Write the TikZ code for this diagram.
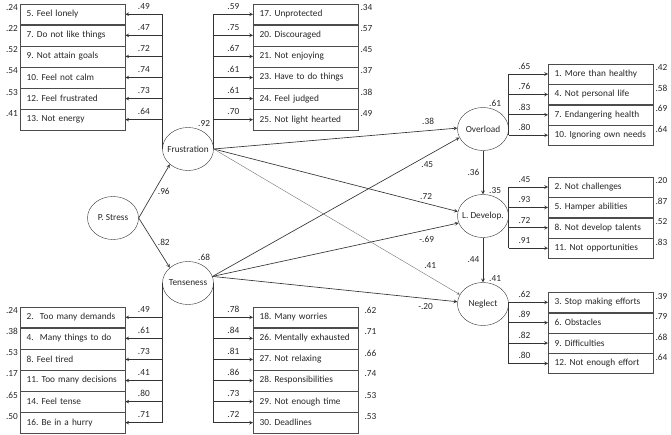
\documentclass[tikz,border=0pt]{standalone}
\usepackage{fontspec}
\setmainfont{Carlito}
\usetikzlibrary{shapes.geometric,positioning}
\frenchspacing
\begin{document}
\begin{tikzpicture}[x=1pt, y=-1pt, >=stealth,
	every node/.style={font=\fontsize{9.3}{11}\selectfont, text=black!85},
	latent/.style={draw=black!80, ellipse, minimum width=51pt, minimum height=43pt, inner sep=0pt},
	item/.style={draw=black!70, minimum width=105pt, minimum height=20.67pt, text width=96pt, align=left, inner xsep=4.5pt, inner ysep=0pt},
	itemr/.style={item, minimum height=20pt},
	evl/.style={anchor=east, inner sep=1pt, xshift=-1pt, yshift=-4pt},
	evr/.style={anchor=west, inner sep=1pt, xshift=1pt, yshift=-4pt},
	cor/.style={anchor=south west, inner sep=1pt, xshift=5pt},
	lnk/.style={draw=black!80, line width=0.65pt}]

	\useasboundingbox (0,0) rectangle (671,435);

	% latent variables
	\node[latent] (PS) at (113,218) {\makebox[0pt]{P. Stress}};
	\node[latent, label={[cor, xshift=4pt]north:.92}] (Frus) at (188,149) {\makebox[0pt]{Frustration}};
	\node[latent, label={[cor, xshift=4pt]north:.68}] (Tens) at (188,283) {\makebox[0pt]{Tenseness}};
	\node[latent, label={[cor]north:.61}] (Over) at (483,129) {\makebox[0pt]{Overload}};
	\node[latent, label={[cor]north:.35}] (LDev) at (483,216) {\makebox[0pt]{L. Develop.}};
	\node[latent, label={[cor]north:.41}] (Negl) at (483,304) {\makebox[0pt]{Neglect}};

	% frustration items (left)
	\node[item, anchor=west, label={[evl]north west:.24}] (f5) at (20,14.3) {\hspace{2pt}5. Feel lonely};
	\node[item, below=0pt of f5, label={[evl]north west:.22}] (f7) {\hspace{2pt}7. Do not like things};
	\node[item, below=0pt of f7, label={[evl]north west:.52}] (f9) {\hspace{2pt}9. Not attain goals};
	\node[item, below=0pt of f9, label={[evl]north west:.54}] (f10) {\hspace{2pt}10. Feel not calm};
	\node[item, below=0pt of f10, label={[evl]north west:.53}] (f12) {\hspace{2pt}12. Feel frustrated};
	\node[item, below=0pt of f12, label={[evl]north west:.41}] (f13) {\hspace{2pt}13. Not energy};

	\draw[lnk] (Frus.west) -- (Frus.west |- f5);
	\draw[lnk, ->] (Frus.west |- f5) -- (f5.east) node[midway, above=1pt] {.49};
	\draw[lnk, ->] (Frus.west |- f7) -- (f7.east) node[midway, above=1pt] {.47};
	\draw[lnk, ->] (Frus.west |- f9) -- (f9.east) node[midway, above=1pt] {.72};
	\draw[lnk, ->] (Frus.west |- f10) -- (f10.east) node[midway, above=1pt] {.74};
	\draw[lnk, ->] (Frus.west |- f12) -- (f12.east) node[midway, above=1pt] {.73};
	\draw[lnk, ->] (Frus.west |- f13) -- (f13.east) node[midway, above=1pt] {.64};

	% frustration items (right)
	\node[item, anchor=west, label={[evr]north east:.34}] (f17) at (253,14.3) {\hspace{2pt}17. Unprotected};
	\node[item, below=0pt of f17, label={[evr]north east:.57}] (f20) {\hspace{2pt}20. Discouraged};
	\node[item, below=0pt of f20, label={[evr]north east:.45}] (f21) {\hspace{2pt}21. Not enjoying};
	\node[item, below=0pt of f21, label={[evr]north east:.37}] (f23) {\hspace{2pt}23. Have to do things};
	\node[item, below=0pt of f23, label={[evr]north east:.38}] (f24) {\hspace{2pt}24. Feel judged};
	\node[item, below=0pt of f24, label={[evr]north east:.49}] (f25) {\hspace{2pt}25. Not light hearted};

	\draw[lnk] (Frus.east) -- (Frus.east |- f17);
	\draw[lnk, ->] (Frus.east |- f17) -- (f17.west) node[midway, above=1pt] {.59};
	\draw[lnk, ->] (Frus.east |- f20) -- (f20.west) node[midway, above=1pt] {.75};
	\draw[lnk, ->] (Frus.east |- f21) -- (f21.west) node[midway, above=1pt] {.67};
	\draw[lnk, ->] (Frus.east |- f23) -- (f23.west) node[midway, above=1pt] {.61};
	\draw[lnk, ->] (Frus.east |- f24) -- (f24.west) node[midway, above=1pt] {.61};
	\draw[lnk, ->] (Frus.east |- f25) -- (f25.west) node[midway, above=1pt] {.70};

	% tenseness items (left)
	\node[item, anchor=west, label={[evl]north west:.24}] (t2) at (20,317.3) {\hspace{2pt}2.~ Too many demands};
	\node[item, below=0pt of t2, label={[evl]north west:.38}] (t4) {\hspace{2pt}4.~ Many things to do};
	\node[item, below=0pt of t4, label={[evl]north west:.53}] (t8) {\hspace{2pt}8. Feel tired};
	\node[item, below=0pt of t8, label={[evl]north west:.17}] (t11) {\hspace{2pt}11. Too many decisions};
	\node[item, below=0pt of t11, label={[evl]north west:.65}] (t14) {\hspace{2pt}14. Feel tense};
	\node[item, below=0pt of t14, label={[evl]north west:.50}] (t16) {\hspace{2pt}16. Be in a hurry};

	\draw[lnk] (Tens.west) -- (Tens.west |- t16);
	\draw[lnk, ->] (Tens.west |- t2) -- (t2.east) node[midway, above=1pt] {.49};
	\draw[lnk, ->] (Tens.west |- t4) -- (t4.east) node[midway, above=1pt] {.61};
	\draw[lnk, ->] (Tens.west |- t8) -- (t8.east) node[midway, above=1pt] {.73};
	\draw[lnk, ->] (Tens.west |- t11) -- (t11.east) node[midway, above=1pt] {.41};
	\draw[lnk, ->] (Tens.west |- t14) -- (t14.east) node[midway, above=1pt] {.80};
	\draw[lnk, ->] (Tens.west |- t16) -- (t16.east) node[midway, above=1pt] {.71};

	% tenseness items (right)
	\node[item, anchor=west, label={[evr, xshift=4pt]north east:.62}] (t18) at (253,317.3) {\hspace{2pt}18. Many worries};
	\node[item, below=0pt of t18, label={[evr, xshift=4pt]north east:.71}] (t26) {\hspace{2pt}26. Mentally exhausted};
	\node[item, below=0pt of t26, label={[evr, xshift=4pt]north east:.66}] (t27) {\hspace{2pt}27. Not relaxing};
	\node[item, below=0pt of t27, label={[evr, xshift=4pt]north east:.74}] (t28) {\hspace{2pt}28. Responsibilities};
	\node[item, below=0pt of t28, label={[evr, xshift=4pt]north east:.53}] (t29) {\hspace{2pt}29. Not enough time};
	\node[item, below=0pt of t29, label={[evr, xshift=4pt]north east:.53}] (t30) {\hspace{2pt}30. Deadlines};

	\draw[lnk] (Tens.east) -- (Tens.east |- t30);
	\draw[lnk, ->] (Tens.east |- t18) -- (t18.west) node[midway, above=1pt] {.78};
	\draw[lnk, ->] (Tens.east |- t26) -- (t26.west) node[midway, above=1pt] {.84};
	\draw[lnk, ->] (Tens.east |- t27) -- (t27.west) node[midway, above=1pt] {.81};
	\draw[lnk, ->] (Tens.east |- t28) -- (t28.west) node[midway, above=1pt] {.86};
	\draw[lnk, ->] (Tens.east |- t29) -- (t29.west) node[midway, above=1pt] {.73};
	\draw[lnk, ->] (Tens.east |- t30) -- (t30.west) node[midway, above=1pt] {.72};

	% overload items
	\node[itemr, anchor=west, label={[evr]north east:.42}] (o1) at (548,74) {\hspace{2pt}1. More than healthy};
	\node[itemr, below=0pt of o1, label={[evr]north east:.58}] (o4) {\hspace{2pt}4. Not personal life};
	\node[itemr, below=0pt of o4, label={[evr]north east:.69}] (o7) {\hspace{2pt}7. Endangering health};
	\node[itemr, below=0pt of o7, label={[evr]north east:.64}] (o10) {\hspace{2pt}10. Ignoring own needs};

	\draw[lnk] (Over.east |- o1) -- (Over.east |- o10);
	\draw[lnk, ->] (Over.east |- o1) -- (o1.west) node[pos=0.4, above=1pt] {.65};
	\draw[lnk, ->] (Over.east |- o4) -- (o4.west) node[pos=0.4, above=1pt] {.76};
	\draw[lnk, ->] (Over.east |- o7) -- (o7.west) node[pos=0.4, above=1pt] {.83};
	\draw[lnk, ->] (Over.east |- o10) -- (o10.west) node[pos=0.4, above=1pt] {.80};

	% lack of development items
	\node[itemr, anchor=west, label={[evr]north east:.20}] (l2) at (548,187) {\hspace{2pt}2. Not challenges};
	\node[itemr, below=0pt of l2, label={[evr]north east:.87}] (l5) {\hspace{2pt}5. Hamper abilities};
	\node[itemr, below=0pt of l5, label={[evr]north east:.52}] (l8) {\hspace{2pt}8. Not develop talents};
	\node[itemr, below=0pt of l8, label={[evr]north east:.83}] (l11) {\hspace{2pt}11. Not opportunities};

	\draw[lnk] (LDev.east |- l2) -- (LDev.east |- l11);
	\draw[lnk, ->] (LDev.east |- l2) -- (l2.west) node[pos=0.4, above=1pt] {.45};
	\draw[lnk, ->] (LDev.east |- l5) -- (l5.west) node[pos=0.4, above=1pt] {.93};
	\draw[lnk, ->] (LDev.east |- l8) -- (l8.west) node[pos=0.4, above=1pt] {.72};
	\draw[lnk, ->] (LDev.east |- l11) -- (l11.west) node[pos=0.4, above=1pt] {.91};

	% neglect items
	\node[itemr, anchor=west, label={[evr]north east:.39}] (n3) at (548,302.3) {\hspace{2pt}3. Stop making efforts};
	\node[itemr, below=0pt of n3, label={[evr]north east:.79}] (n6) {\hspace{2pt}6. Obstacles};
	\node[itemr, below=0pt of n6, label={[evr]north east:.68}] (n9) {\hspace{2pt}9. Difficulties};
	\node[itemr, below=0pt of n9, label={[evr]north east:.64}] (n12) {\hspace{2pt}12. Not enough effort};

	\draw[lnk] (Negl.east |- n3) -- (Negl.east |- n12);
	\draw[lnk, ->] (Negl.east |- n3) -- (n3.west) node[pos=0.4, above=1pt] {.62};
	\draw[lnk, ->] (Negl.east |- n6) -- (n6.west) node[pos=0.4, above=1pt] {.89};
	\draw[lnk, ->] (Negl.east |- n9) -- (n9.west) node[pos=0.4, above=1pt] {.82};
	\draw[lnk, ->] (Negl.east |- n12) -- (n12.west) node[pos=0.4, above=1pt] {.80};

	% structural paths
	\draw[lnk, ->] (PS.east) -- (Frus.south west) node[midway, right] {.96};
	\draw[lnk, ->] (PS.east) -- (Tens.north west) node[midway, right] {.82};

	\draw[lnk, ->] (Frus.east) -- (Over.178) node[pos=0.88, above=2pt] {.38};
	\draw[lnk, ->] (Frus.east) -- (LDev.170) node[pos=0.87, above] {.72};
	\draw[lnk, ->, draw=black!55, line width=0.4pt] (Frus.east) -- (Negl.158) node[pos=0.88, above=5pt] {.41};

	\draw[lnk, ->] (Tens.15) -- (Over.200) node[pos=0.87, below=2pt] {.45};
	\draw[lnk, ->] (Tens.15) -- (LDev.196) node[pos=0.87, below=3pt] {-.69};
	\draw[lnk, ->] (Tens.15) -- (Negl.175) node[pos=0.87, below=1pt] {-.20};

	\draw[lnk, ->] (Over) -- (LDev) node[midway, left] {.36};
	\draw[lnk, ->] (LDev) -- (Negl) node[midway, left] {.44};

\end{tikzpicture}
\end{document}
